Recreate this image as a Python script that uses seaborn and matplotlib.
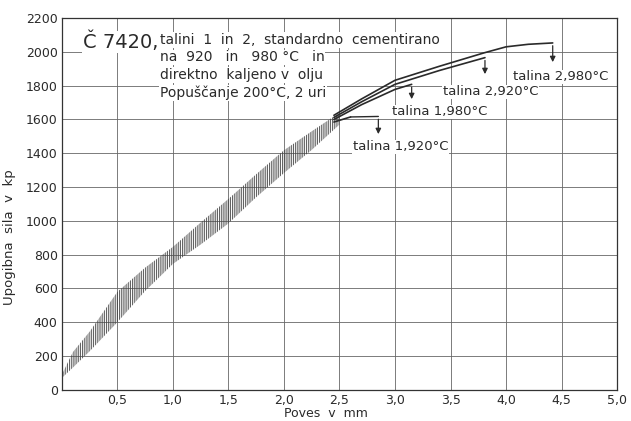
import matplotlib
matplotlib.use("Agg")
import matplotlib.pyplot as plt
import seaborn as sns
import pandas as pd
import numpy as np

# ---- data ----
band_x = [0.0, 0.1, 0.25, 0.5, 0.75, 1.0, 1.25, 1.5, 1.75, 2.0, 2.25, 2.5]
band_hi = [90, 224, 344, 580, 723, 846, 990, 1130, 1276, 1418, 1530, 1640]
band_lo = [70, 132, 228, 400, 585, 745, 860, 985, 1140, 1283, 1420, 1570]

c1_x = [2.45, 2.6]
c1_y = [1585, 1615]
c2_x = [2.45, 2.7, 3.0, 3.15]
c2_y = [1600, 1688, 1778, 1808]
c3_x = [2.45, 2.7, 3.0, 3.4, 3.81]
c3_y = [1612, 1705, 1808, 1890, 1966]
c4_x = [2.45, 2.7, 3.0, 3.4, 3.8, 4.0, 4.2, 4.42]
c4_y = [1625, 1722, 1832, 1915, 1994, 2030, 2045, 2053]

labels = ["talina 1,920°C", "talina 1,980°C", "talina 2,920°C", "talina 2,980°C"]
arrow_x = [2.85, 3.15, 3.81, 4.42]
arrow_top = [1618, 1808, 1966, 2053]
arrow_tip = [1497, 1704, 1852, 1923]
label_x = [2.62, 2.97, 3.43, 4.06]
label_y = [1438, 1645, 1763, 1852]

x_ticks = [0.5, 1.0, 1.5, 2.0, 2.5, 3.0, 3.5, 4.0, 4.5, 5.0]
x_ticklabels = ["0,5", "1,0", "1,5", "2,0", "2,5", "3,0", "3,5", "4,0", "4,5", "5,0"]
y_ticks = [0, 200, 400, 600, 800, 1000, 1200, 1400, 1600, 1800, 2000, 2200]

title_big = "Č 7420,"
title_lines = ["talini  1  in  2,  standardno  cementirano",
               "na  920   in   980 °C   in",
               "direktno  kaljeno v  olju",
               "Popuščanje 200°C, 2 uri"]

# ---- plotting ----
sns.set_theme(style="whitegrid")
plt.rcParams['font.family'] = ['DejaVu Sans']
plt.rcParams['hatch.linewidth'] = 0.6
ink = "#2a2a2a"

fig = plt.figure(figsize=(6.31, 4.21), dpi=100)
ax = fig.add_axes([0.098, 0.074, 0.88, 0.883])
ax.set_facecolor("white")

# hatched scatter band
ax.fill_between(band_x, band_lo, band_hi, facecolor="none", edgecolor="#444444",
                hatch="|||||||||", linewidth=0)

curves = pd.DataFrame({
    "x": c1_x + c2_x + c3_x + c4_x,
    "y": c1_y + c2_y + c3_y + c4_y,
    "c": ["c1"] * len(c1_x) + ["c2"] * len(c2_x) + ["c3"] * len(c3_x) + ["c4"] * len(c4_x),
})
sns.lineplot(data=curves, x="x", y="y", units="c", estimator=None, color=ink,
             linewidth=1.2, ax=ax, legend=False)

# leaders with arrows
ax.plot([c1_x[-1], arrow_x[0]], [c1_y[-1], arrow_top[0]], color=ink, lw=1.0)
for ax_, top, tip, lab, lx, ly in zip(arrow_x, arrow_top, arrow_tip, labels, label_x, label_y):
    ax.annotate("", xy=(ax_, tip), xytext=(ax_, top),
                arrowprops=dict(arrowstyle="-|>", color=ink, lw=0.9, mutation_scale=8))
    ax.text(lx, ly, lab, fontsize=9.5, color=ink, va="center", ha="left",
            bbox=dict(facecolor="white", edgecolor="none", pad=0.5))

# title block
ax.text(0.19, 2060, title_big, fontsize=14, color=ink, va="center", ha="left",
        bbox=dict(facecolor="white", edgecolor="none", pad=0.5))
for i, line in enumerate(title_lines):
    ax.text(0.88, 2071 - i * 104, line, fontsize=10, color=ink, va="center", ha="left",
            bbox=dict(facecolor="white", edgecolor="none", pad=0.5))

ax.set_xlim(0, 5.0)
ax.set_ylim(0, 2200)
ax.set_xticks(x_ticks)
ax.set_xticklabels(x_ticklabels)
ax.set_yticks(y_ticks)
ax.tick_params(axis="both", labelsize=9, colors=ink, length=0, pad=3)
ax.grid(True, color="#666666", linewidth=0.6)
for s in ax.spines.values():
    s.set_color("#333333")
    s.set_linewidth(0.9)

ax.set_xlabel("Poves  v  mm", fontsize=9, color=ink, labelpad=1)
ax.xaxis.set_label_coords(0.476, -0.045)
ax.set_ylabel("Upogibna  sila  v  kp", fontsize=9.5, color=ink, labelpad=2)
ax.yaxis.set_label_coords(-0.082, 0.41)

fig.savefig("out.png", dpi=100, facecolor="white")
